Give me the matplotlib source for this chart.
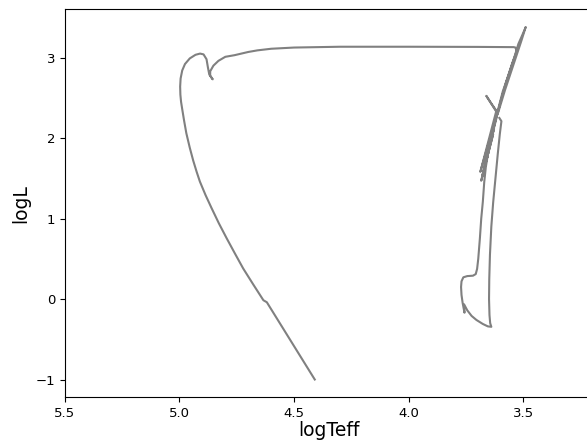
import matplotlib
matplotlib.use("Agg")
import matplotlib.pyplot as plt

# evolutionary track, in drawing order
# pre-main sequence (Hayashi + Henyey)
pms_teff = [3.605, 3.596, 3.603, 3.612, 3.622, 3.632, 3.640, 3.646, 3.649, 3.650,
            3.648, 3.645, 3.640, 3.655, 3.677, 3.705, 3.726, 3.745, 3.759]
pms_l = [2.25, 2.21, 2.05, 1.80, 1.50, 1.20, 0.90, 0.55, 0.25, 0.00,
         -0.20, -0.30, -0.345, -0.34, -0.31, -0.26, -0.21, -0.14, -0.065]

# main sequence, subgiant and red giant branch up to the tip
rgb_teff = [3.757, 3.765, 3.770, 3.772, 3.770, 3.762, 3.745, 3.720, 3.708, 3.702,
            3.697, 3.690, 3.684, 3.677, 3.671, 3.664, 3.652, 3.640, 3.625, 3.612,
            3.590, 3.563, 3.540, 3.522, 3.505, 3.490]
rgb_l = [-0.17, -0.05, 0.05, 0.15, 0.22, 0.27, 0.285, 0.29, 0.31, 0.375,
         0.50, 0.75, 1.00, 1.21, 1.45, 1.64, 1.85, 2.00, 2.18, 2.34,
         2.58, 2.80, 3.00, 3.17, 3.28, 3.38]

# helium flashes down to the clump
flash_teff = [3.510, 3.545, 3.580, 3.612, 3.662, 3.640, 3.618, 3.688, 3.620, 3.684,
              3.628, 3.680, 3.632, 3.676, 3.670]
flash_l = [3.20, 2.90, 2.60, 2.30, 2.525, 2.43, 2.34, 1.58, 2.25, 1.47,
           2.12, 1.52, 2.05, 1.56, 1.62]

# asymptotic giant branch
agb_teff = [3.655, 3.640, 3.620, 3.600, 3.575, 3.550, 3.533, 3.530, 3.535, 3.542]
agb_l = [1.80, 2.00, 2.22, 2.45, 2.70, 2.92, 3.05, 3.09, 3.125, 3.13]

# post-AGB crossing and loop
post_teff = [3.700, 4.000, 4.300, 4.500, 4.600, 4.660, 4.700, 4.730, 4.760, 4.800,
             4.830, 4.852, 4.866, 4.866, 4.855, 4.870, 4.876, 4.882, 4.895, 4.910,
             4.930, 4.955, 4.976, 4.988]
post_l = [3.133, 3.135, 3.135, 3.125, 3.11, 3.09, 3.07, 3.05, 3.03, 3.01,
          2.96, 2.90, 2.83, 2.775, 2.73, 2.79, 2.88, 2.98, 3.04, 3.05,
          3.035, 2.99, 2.92, 2.84]

# white dwarf cooling
wd_teff = [4.995, 4.997, 4.996, 4.993, 4.988, 4.980, 4.970, 4.955, 4.940, 4.925,
           4.911, 4.886, 4.860, 4.828, 4.794, 4.758, 4.722, 4.678, 4.634, 4.619,
           4.410]
wd_l = [2.74, 2.64, 2.54, 2.45, 2.36, 2.22, 2.06, 1.88, 1.72, 1.58,
        1.46, 1.29, 1.13, 0.94, 0.754, 0.565, 0.379, 0.18, -0.015, -0.04,
        -1.00]

logTeff = pms_teff + rgb_teff + flash_teff + agb_teff + post_teff + wd_teff
logL = pms_l + rgb_l + flash_l + agb_l + post_l + wd_l

fig = plt.figure(figsize=(5.87, 4.46), dpi=100)
ax = fig.add_axes([0.1104, 0.1094, 0.8985, 0.8697])

ax.plot(logTeff, logL, color='gray', linewidth=1.5)

ax.set_xlim(5.5, 3.2)
ax.set_ylim(-1.22, 3.60)
ax.set_xticks([5.5, 5.0, 4.5, 4.0, 3.5])
ax.set_yticks([-1, 0, 1, 2, 3])
ax.tick_params(labelsize=9.5)
ax.set_xlabel("logTeff", fontsize=13.5, labelpad=1)
ax.set_ylabel("logL", fontsize=13.5)

fig.savefig("out.png", dpi=100)
